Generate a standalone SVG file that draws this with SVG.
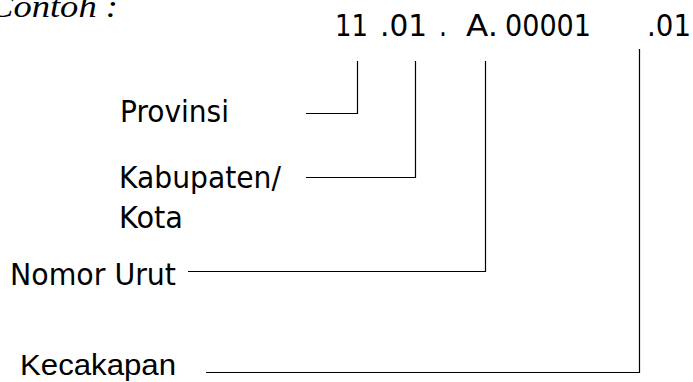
<svg xmlns="http://www.w3.org/2000/svg" width="693" height="382" viewBox="0 0 693 382">
<style>
.t{font-family:"DejaVu Sans","Verdana",sans-serif;font-size:30px;fill:#000}
.a{font-family:"Liberation Sans","Arial",sans-serif;font-size:30px;fill:#000}
.s{font-family:"Liberation Serif","Times New Roman",serif;font-style:italic;font-size:32px;fill:#000}
.c{fill:none;stroke:#000;stroke-width:1.2}
</style>
<rect width="693" height="382" fill="#fff"/>
<g id="title"><text class="s" x="-11" y="17" textLength="129" lengthAdjust="spacingAndGlyphs">Contoh :</text></g>
<g id="code">
<text class="t" x="335" y="36" textLength="33" lengthAdjust="spacingAndGlyphs">11</text>
<text class="t" x="380" y="36" textLength="47" lengthAdjust="spacingAndGlyphs">.01</text>
<text class="t" x="439" y="36" textLength="8" lengthAdjust="spacingAndGlyphs">.</text>
<text class="t" x="466" y="36" textLength="32" lengthAdjust="spacingAndGlyphs">A.</text>
<text class="t" x="505" y="36" textLength="86" lengthAdjust="spacingAndGlyphs">00001</text>
<text class="t" x="647" y="36" textLength="44" lengthAdjust="spacingAndGlyphs">.01</text>
</g>
<g id="provinsi"><text class="t" x="120" y="122" textLength="109" lengthAdjust="spacingAndGlyphs">Provinsi</text></g>
<g id="kabupaten">
<text class="t" x="119" y="188" textLength="162" lengthAdjust="spacingAndGlyphs">Kabupaten/</text>
<text class="t" x="119" y="228" textLength="64" lengthAdjust="spacingAndGlyphs">Kota</text>
</g>
<g id="nomor"><text class="t" x="10" y="285" textLength="166" lengthAdjust="spacingAndGlyphs">Nomor Urut</text></g>
<g id="kecakapan"><text class="a" x="20" y="375" textLength="156" lengthAdjust="spacingAndGlyphs">Kecakapan</text></g>
<g id="connectors">
<path class="c" d="M306,113.5 H357.5 V61"/>
<path class="c" d="M306,177.5 H415.5 V61"/>
<path class="c" d="M188,271.5 H485.5 V61"/>
<path class="c" d="M206,372.5 H639.5 V49"/>
</g>
</svg>
